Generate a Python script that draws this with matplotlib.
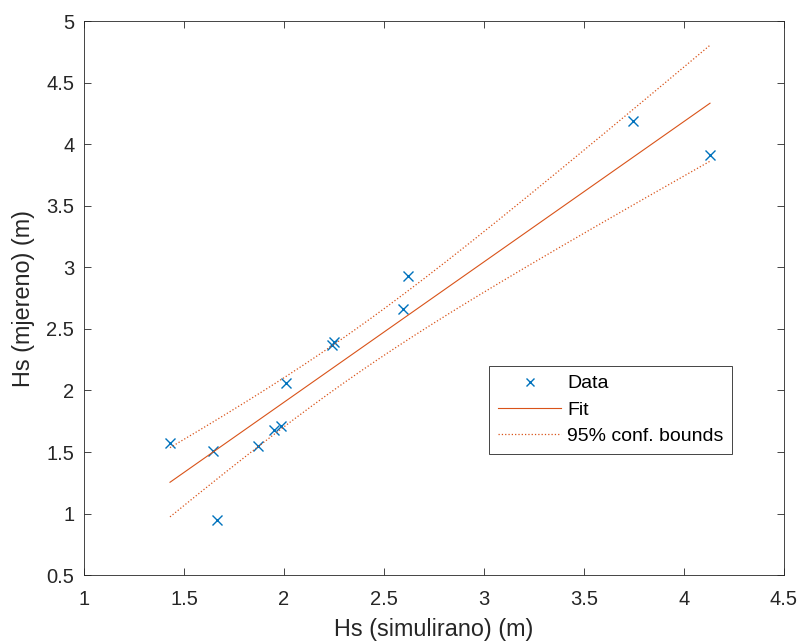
import matplotlib.pyplot as plt
import numpy as np

plt.rcParams['font.family'] = ['Liberation Sans', 'DejaVu Sans']

# measured vs simulated wave heights
hs_sim = [1.43, 1.645, 1.665, 1.87, 1.95, 1.985, 2.01, 2.24, 2.25, 2.593, 2.62, 3.743, 4.13]
hs_mje = [1.57, 1.51, 0.95, 1.545, 1.675, 1.715, 2.057, 2.366, 2.39, 2.664, 2.93, 4.187, 3.91]

x = np.array(hs_sim)
y = np.array(hs_mje)

# linear fit + 95% confidence bounds on the fitted line
p = np.polyfit(x, y, 1)
n = len(x)
s = np.sqrt(np.sum((y - np.polyval(p, x)) ** 2) / (n - 2))
t95 = 2.201  # t(0.975, n-2)
xx = np.linspace(x.min(), x.max(), 200)
yy = np.polyval(p, xx)
half = t95 * s * np.sqrt(1 / n + (xx - x.mean()) ** 2 / np.sum((x - x.mean()) ** 2))

fig = plt.figure(figsize=(8, 6.44), dpi=100)
ax = fig.add_axes([0.105, 0.107, 0.875, 0.860])

ax.plot(x, y, 'x', color='#0072BD', markersize=7.5, markeredgewidth=1.0, label='Data')
ax.plot(xx, yy, '-', color='#D95319', linewidth=0.8, label='Fit')
ax.plot(xx, yy + half, ':', color='#D95319', linewidth=0.9, label='95% conf. bounds')
ax.plot(xx, yy - half, ':', color='#D95319', linewidth=0.9)

ax.set_xlim(1, 4.5)
ax.set_ylim(0.5, 5)
ax.set_xticks(np.arange(1, 4.51, 0.5))
ax.set_yticks(np.arange(0.5, 5.01, 0.5))
ax.set_xticklabels(['1', '1.5', '2', '2.5', '3', '3.5', '4', '4.5'])
ax.set_yticklabels(['0.5', '1', '1.5', '2', '2.5', '3', '3.5', '4', '4.5', '5'])
ax.tick_params(direction='in', top=True, right=True, labelsize=14.5, length=5, width=0.6, colors='#262626')
ax.tick_params(axis='y', pad=7)
ax.tick_params(axis='x', pad=11)
for sp in ax.spines.values():
    sp.set_linewidth(0.6)
    sp.set_color('#262626')

ax.set_xlabel('Hs (simulirano) (m)', fontsize=16.8, color='#262626', labelpad=6)
ax.set_ylabel('Hs (mjereno) (m)', fontsize=16.8, color='#262626', labelpad=8)

leg = ax.legend(loc='upper left', bbox_to_anchor=(489 / 800, 1 - 366 / 644), bbox_transform=fig.transFigure,
                fontsize=14, fancybox=False, framealpha=1, edgecolor='#262626', markerscale=0.7,
                handlelength=3.27, borderpad=0.45, labelspacing=0.45, handletextpad=0.3, borderaxespad=0)
leg.get_frame().set_linewidth(0.6)

fig.savefig('out.png', dpi=100)
